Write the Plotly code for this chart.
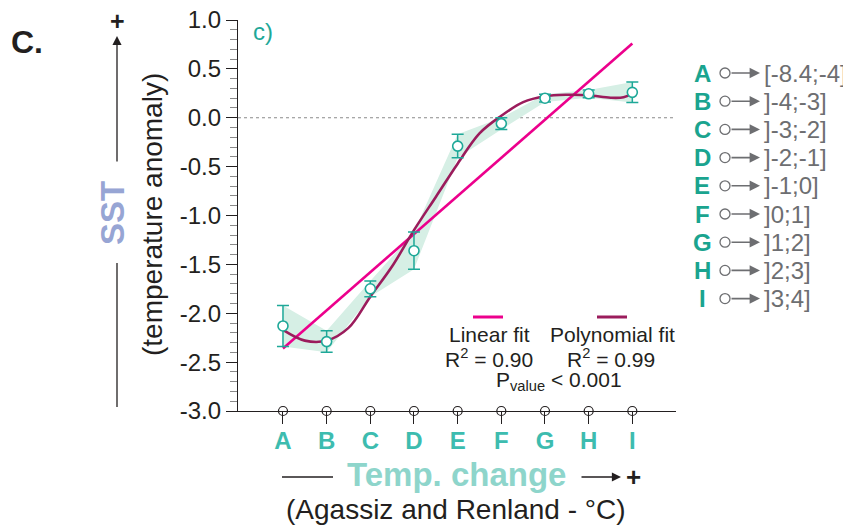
import plotly.graph_objects as go

# bins of temperature change (Agassiz and Renland)
categories = ["A", "B", "C", "D", "E", "F", "G", "H", "I"]
bin_ranges = ["[-8.4;-4]", "]-4;-3]", "]-3;-2]", "]-2;-1]", "]-1;0]",
              "]0;1]", "]1;2]", "]2;3]", "]3;4]"]

# SST anomaly per bin (mean and error)
sst_mean = [-2.13, -2.29, -1.75, -1.36, -0.29, -0.06, 0.20, 0.245, 0.26]
sst_err = [0.21, 0.11, 0.08, 0.19, 0.12, 0.06, 0.04, 0.04, 0.105]

# fitted curves
linear_fit_x = [0, 8]
linear_fit_y = [-2.36, 0.76]
poly_fit_x = [0, 0.5, 1, 1.5, 2, 2.5, 3, 3.5, 4, 4.5, 5, 5.5, 6, 6.5, 7, 7.5, 7.8, 8]
poly_fit_y = [-2.17, -2.28, -2.28, -2.15, -1.83, -1.52, -1.15, -0.81, -0.47,
              -0.16, 0.02, 0.16, 0.22, 0.235, 0.23, 0.205, 0.21, 0.25]

# y axis ticks
y_tick_vals = [1.0, 0.5, 0.0, -0.5, -1.0, -1.5, -2.0, -2.5, -3.0]
y_tick_text = ["1.0", "0.5", "0.0", "-0.5", "-1.0", "-1.5", "-2.0", "-2.5", "-3.0"]

FONT = "Liberation Sans, Arial, Helvetica, sans-serif"
DARK = "#231f20"
TEAL = "#1ea898"
PINK = "#ec008c"
PLUM = "#9b1c5c"
GREY = "#6d6e71"

# plot area in screen pixels; the page body adds an 8px offset
OFF = 8
L, R, T, B = 238, 676, 20, 411


def fx(px):
    return (px - L) / (R - L)


def fy(py):
    return (B - py) / (B - T)


x_idx = list(range(len(categories)))
upper = [m + e for m, e in zip(sst_mean, sst_err)]
lower = [m - e for m, e in zip(sst_mean, sst_err)]

fig = go.Figure()

# shaded band
fig.add_trace(go.Scatter(x=x_idx, y=lower, mode="lines", line=dict(width=0),
                         hoverinfo="skip", showlegend=False))
fig.add_trace(go.Scatter(x=x_idx, y=upper, mode="lines", line=dict(width=0),
                         fill="tonexty", fillcolor="#d6efe5",
                         hoverinfo="skip", showlegend=False))

fig.add_trace(go.Scatter(x=linear_fit_x, y=linear_fit_y, mode="lines",
                         line=dict(color=PINK, width=2.6), showlegend=False))
fig.add_trace(go.Scatter(x=poly_fit_x, y=poly_fit_y, mode="lines",
                         line=dict(color=PLUM, width=2.6, shape="spline", smoothing=1.0),
                         showlegend=False))

fig.add_trace(go.Scatter(
    x=x_idx, y=sst_mean, mode="markers",
    marker=dict(symbol="circle", size=10, color="white", line=dict(color=TEAL, width=1.6)),
    error_y=dict(type="data", array=sst_err, color=TEAL, thickness=1.5, width=6),
    showlegend=False,
))

# open circles on the x axis
fig.add_trace(go.Scatter(
    x=x_idx, y=[-3] * len(x_idx), mode="markers", cliponaxis=False,
    marker=dict(symbol="circle", size=9, color="white", line=dict(color=DARK, width=1.2)),
    showlegend=False,
))

shapes = [
    dict(type="line", xref="paper", yref="y", x0=0, x1=1, y0=0, y1=0,
         line=dict(color="#8a8a8a", width=1.2, dash="dot"), layer="below"),
    # y title line (lower part)
    dict(type="line", xref="paper", yref="paper", x0=fx(117), x1=fx(117),
         y0=fy(407), y1=fy(263), line=dict(color=DARK, width=1.3)),
    # x title line (left part)
    dict(type="line", xref="paper", yref="paper", x0=fx(282), x1=fx(333),
         y0=fy(477), y1=fy(477), line=dict(color=DARK, width=1.3)),
    # legend samples
    dict(type="line", xref="paper", yref="paper", x0=fx(473), x1=fx(503),
         y0=fy(317), y1=fy(317), line=dict(color=PINK, width=3)),
    dict(type="line", xref="paper", yref="paper", x0=fx(597), x1=fx(627),
         y0=fy(317), y1=fy(317), line=dict(color=PLUM, width=3)),
]

annotations = [
    dict(text="<b>C.</b>", x=fx(27), y=fy(42), font=dict(size=32, color=DARK)),
    dict(text="c)", x=fx(263), y=fy(31), font=dict(size=24, color=TEAL)),
    # y title
    dict(text="", x=fx(117), y=fy(36), ax=0, ay=127, showarrow=True,
         arrowhead=2, arrowsize=1.4, arrowwidth=1.3, arrowcolor=DARK),
    dict(text="<b>+</b>", x=fx(117), y=fy(21), font=dict(size=25, color=DARK)),
    dict(text="<b>SST</b>", x=fx(113), y=fy(213), textangle=-90,
         font=dict(size=33, color="#97a5d4")),
    dict(text="(temperature anomaly)", x=fx(152), y=fy(215), textangle=-90,
         font=dict(size=28, color=DARK)),
    # x title
    dict(text="<b>Temp. change</b>", x=fx(456), y=fy(474),
         font=dict(size=33, color="#8ed5cb")),
    dict(text="", x=fx(621), y=fy(477), ax=-41, ay=0, showarrow=True,
         arrowhead=2, arrowsize=1.4, arrowwidth=1.3, arrowcolor=DARK),
    dict(text="<b>+</b>", x=fx(633), y=fy(477), font=dict(size=26, color=DARK)),
    dict(text="(Agassiz and Renland - °C)", x=fx(456), y=fy(509),
         font=dict(size=28, color=DARK)),
    # fit legend
    dict(text="Linear fit", x=fx(489), y=fy(334), font=dict(size=21, color=DARK)),
    dict(text="R<sup>2</sup> = 0.90", x=fx(489), y=fy(358), font=dict(size=21, color=DARK)),
    dict(text="Polynomial fit", x=fx(612), y=fy(334), font=dict(size=21, color=DARK)),
    dict(text="R<sup>2</sup> = 0.99", x=fx(611), y=fy(358), font=dict(size=21, color=DARK)),
    dict(text="P<sub>value</sub> &lt; 0.001", x=fx(559), y=fy(381),
         font=dict(size=21, color=DARK)),
]

# bin key on the right
for i, (cat, rng) in enumerate(zip(categories, bin_ranges)):
    row = 73 + 28.2 * i
    annotations.append(dict(text=f"<b>{cat}</b>", x=fx(702), y=fy(row),
                            font=dict(size=24, color="#1aa48f")))
    annotations.append(dict(text="", x=fx(760), y=fy(row), ax=-30, ay=0, showarrow=True,
                            arrowhead=2, arrowsize=1.3, arrowwidth=1.6, arrowcolor=GREY))
    annotations.append(dict(text=rng, x=fx(762), y=fy(row), xanchor="left",
                            font=dict(size=24, color=GREY)))
    shapes.append(dict(type="circle", xref="paper", yref="paper",
                       x0=fx(720), x1=fx(730), y0=fy(row + 5), y1=fy(row - 5),
                       line=dict(color=GREY, width=1.3), fillcolor="white"))

for a in annotations:
    a.setdefault("xref", "paper")
    a.setdefault("yref", "paper")
    a.setdefault("showarrow", False)
    a.setdefault("xanchor", "center")
    a.setdefault("yanchor", "middle")

fig.update_layout(
    width=851,
    height=529,
    autosize=False,
    margin=dict(l=L - OFF, r=851 - R + OFF, t=T - OFF, b=529 - B + OFF),
    plot_bgcolor="white",
    paper_bgcolor="white",
    font=dict(family=FONT, color=DARK),
    shapes=shapes,
    annotations=annotations,
    xaxis=dict(
        range=[-1.03, 9.0],
        tickvals=x_idx,
        ticktext=[f"<b>{c}</b>" for c in categories],
        tickfont=dict(size=24, color="#3dbcaf"),
        ticks="outside", ticklen=12, tickwidth=1.2, tickcolor=DARK,
        ticklabelstandoff=-4,
        showline=True, linecolor=DARK, linewidth=1.3,
        showgrid=False, zeroline=False, automargin=False,
    ),
    yaxis=dict(
        range=[-3, 1],
        tickvals=y_tick_vals,
        ticktext=y_tick_text,
        tickfont=dict(size=24, color=DARK),
        ticks="outside", ticklen=11, tickwidth=1.2, tickcolor=DARK,
        ticklabeloverflow="allow",
        minor=dict(dtick=0.1, ticks="outside", ticklen=7, tickcolor="#8a8a8a", tickwidth=1),
        showline=True, linecolor=DARK, linewidth=1.3,
        showgrid=False, zeroline=False, automargin=False,
    ),
)

fig.write_html("out.html")
